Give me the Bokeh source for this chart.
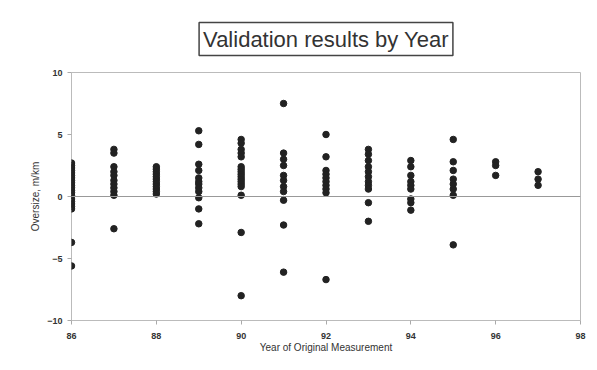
from bokeh.plotting import figure
from bokeh.models import Span, Title, FixedTicker
from bokeh.embed import file_html
from bokeh.resources import INLINE

# Data: year of original measurement vs oversize (m/km)
y86 = [2.7, 2.5, 2.3, 2.1, 1.9, 1.7, 1.5, 1.3, 1.1, 0.9, 0.7, 0.5, 0.3, 0.1,
       -0.2, -0.4, -0.6, -0.8, -1.0, -3.7, -5.6]
y87 = [3.8, 3.5, 2.4, 2.0, 1.7, 1.3, 1.0, 0.7, 0.4, 0.1, -2.6]
y88 = [2.4, 2.2, 2.0, 1.8, 1.6, 1.4, 1.2, 1.0, 0.8, 0.6, 0.4, 0.2]
y89 = [5.3, 4.2, 2.6, 2.1, 1.5, 1.2, 1.0, 0.7, 0.4, -0.1, -1.0, -2.2]
y90 = [4.6, 4.3, 3.8, 3.5, 3.2, 2.4, 2.2, 2.0, 1.8, 1.6, 1.4, 1.2, 1.0, 0.8,
       0.1, -2.9, -8.0]
y91 = [7.5, 3.5, 3.0, 2.5, 1.7, 1.3, 0.8, 0.4, -0.3, -2.3, -6.1]
y92 = [5.0, 3.2, 2.1, 1.8, 1.5, 1.2, 0.9, 0.6, 0.3, -6.7]
y93 = [3.8, 3.4, 2.9, 2.4, 2.0, 1.6, 1.2, 0.9, 0.6, -0.5, -2.0]
y94 = [2.9, 2.4, 1.7, 1.2, 0.9, 0.6, -0.2, -0.5, -1.1]
y95 = [4.6, 2.8, 2.1, 1.4, 1.0, 0.6, 0.1, -3.9]
y96 = [2.8, 2.5, 1.7]
y97 = [2.0, 1.4, 0.9]

years = [86, 87, 88, 89, 90, 91, 92, 93, 94, 95, 96, 97]
series = [y86, y87, y88, y89, y90, y91, y92, y93, y94, y95, y96, y97]
x_ticks = [86, 88, 90, 92, 94, 96, 98]
y_ticks = [-10, -5, 0, 5, 10]

xs, ys = [], []
for yr, vals in zip(years, series):
    for v in vals:
        xs.append(yr)
        ys.append(v)

p = figure(width=589, height=362, output_backend="svg", toolbar_location=None,
           x_range=(86, 98), y_range=(-10, 10),
           min_border_left=71, min_border_right=9, min_border_top=72,
           min_border_bottom=42)

p.title = Title(text="Validation results by Year", align="center",
                text_font="Liberation Sans", text_font_size="22px",
                text_font_style="normal", text_color="#333333",
                background_fill_color="white", border_line_color="#444444",
                border_line_width=1.5, padding=4, standoff=34)

p.background_fill_color = "white"
p.border_fill_color = "white"
p.outline_line_color = "#bbbbbb"
p.outline_line_width = 1
p.xgrid.visible = False
p.ygrid.visible = False

p.add_layout(Span(location=0, dimension="width", line_color="#999999", line_width=1))

p.scatter(xs, ys, marker="circle", size=6.5, fill_color="#222222", line_color="#222222")

p.xaxis.ticker = FixedTicker(ticks=x_ticks)
p.yaxis.ticker = FixedTicker(ticks=y_ticks)
for ax in (p.xaxis[0], p.yaxis[0]):
    ax.axis_line_color = None
    ax.major_tick_line_color = "#aaaaaa"
    ax.minor_tick_line_color = None
    ax.major_tick_out = 4
    ax.major_tick_in = 0
    ax.major_label_text_font = "Liberation Sans"
    ax.major_label_text_font_size = "9px"
    ax.major_label_text_font_style = "bold"
    ax.major_label_text_color = "#333333"
    ax.axis_label_text_font = "Liberation Sans"
    ax.axis_label_text_font_size = "10px"
    ax.axis_label_text_font_style = "normal"
    ax.axis_label_text_color = "#333333"

p.xaxis.axis_label = "Year of Original Measurement"
p.yaxis.axis_label = "Oversize, m/km"
p.xaxis.major_label_standoff = 8
p.xaxis.axis_label_standoff = 0
p.yaxis.axis_label_standoff = 3

open("out.html", "w").write(file_html(p, INLINE))
